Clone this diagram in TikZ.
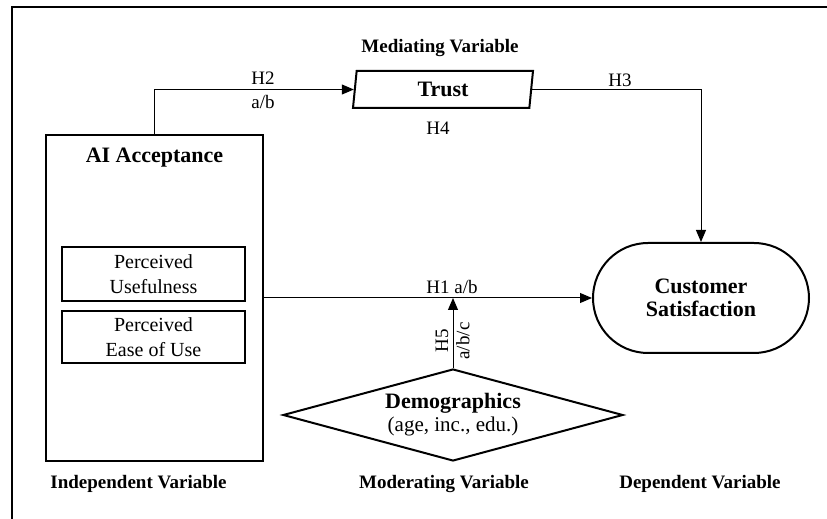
\documentclass[tikz,border=0pt]{standalone}
\usepackage{fontspec}
\setmainfont{Liberation Serif}
\usetikzlibrary{shapes.geometric,shapes.misc,arrows.meta,positioning,calc}

\begin{document}
\begin{tikzpicture}[x=0.5pt,y=-0.5pt,
	box/.style={draw,line width=1pt,inner sep=0pt},
	hyp/.style={font=\fontsize{9.5}{11}\selectfont,inner sep=1pt},
	cat/.style={font=\fontsize{9.5}{11}\selectfont\bfseries},
	link/.style={line width=0.5pt,-{Triangle[length=6pt,width=5pt]}}]
	\useasboundingbox (0,0) rectangle (827,519);
	\draw [line width=1pt] (12,519) -- (12,7) -- (827,7);
	% independent variable
	\node [box,minimum width=108.5pt,minimum height=163pt] (ai) at (154.5,298) {};
	\node [font=\fontsize{11}{13}\selectfont\bfseries] (aititle) at (154.5,158) {AI Acceptance};
	\node [box,minimum width=91.5pt,minimum height=27pt,align=center,font=\fontsize{10}{12.5}\selectfont] (pu) at (153.5,274) {Perceived\\Usefulness};
	\node [box,minimum width=91.5pt,minimum height=26pt,align=center,font=\fontsize{10}{12.5}\selectfont] (peou) at (153.5,337) {Perceived\\Ease of Use};
	% mediating variable
	\node [box,trapezium,trapezium left angle=76,trapezium right angle=104,trapezium stretches body,minimum width=90pt,minimum height=18.5pt,font=\fontsize{11}{13}\selectfont\bfseries] (trust) at (443,89.5) {Trust};
	% dependent variable
	\node [box,rounded rectangle,minimum width=108pt,minimum height=55pt,align=center,font=\fontsize{11}{11.5}\selectfont\bfseries] (cs) at (701,298) {Customer\\Satisfaction};
	% moderating variable
	\node [box,diamond,aspect=3.7,minimum width=170pt,minimum height=46pt,align=center,font=\fontsize{10.5}{11.5}\selectfont] (demo) at (453,415) {{\fontsize{11}{11.5}\selectfont\bfseries Demographics}\\(age, inc., edu.)};
	% hypotheses
	\draw [link] (ai.north) |- (trust.west);
	\draw [link] (trust.east) -| (cs.north);
	\draw [link] (ai.east) -- (cs.west);
	\draw [link] (demo.north) -- (demo.north |- ai.east);
	\node [hyp] (h2) at (263,78) {H2};
	\node [hyp] (h2sub) at (263,102) {a/b};
	\node [hyp] (h3) at (620,80) {H3};
	\node [hyp] (h4) at (438,128) {H4};
	\node [hyp] (h1) at (452,287) {H1 a/b};
	\node [hyp,rotate=90] (h5) at (442,341) {H5};
	\node [hyp,rotate=90] (h5sub) at (463,341) {a/b/c};
	% variable types
	\node [cat] (indep) at (138.5,484) {Independent Variable};
	\node [cat] (med) at (440,48) {Mediating Variable};
	\node [cat] (mod) at (444,484) {Moderating Variable};
	\node [cat] (dep) at (700,484) {Dependent Variable};
\end{tikzpicture}
\end{document}
